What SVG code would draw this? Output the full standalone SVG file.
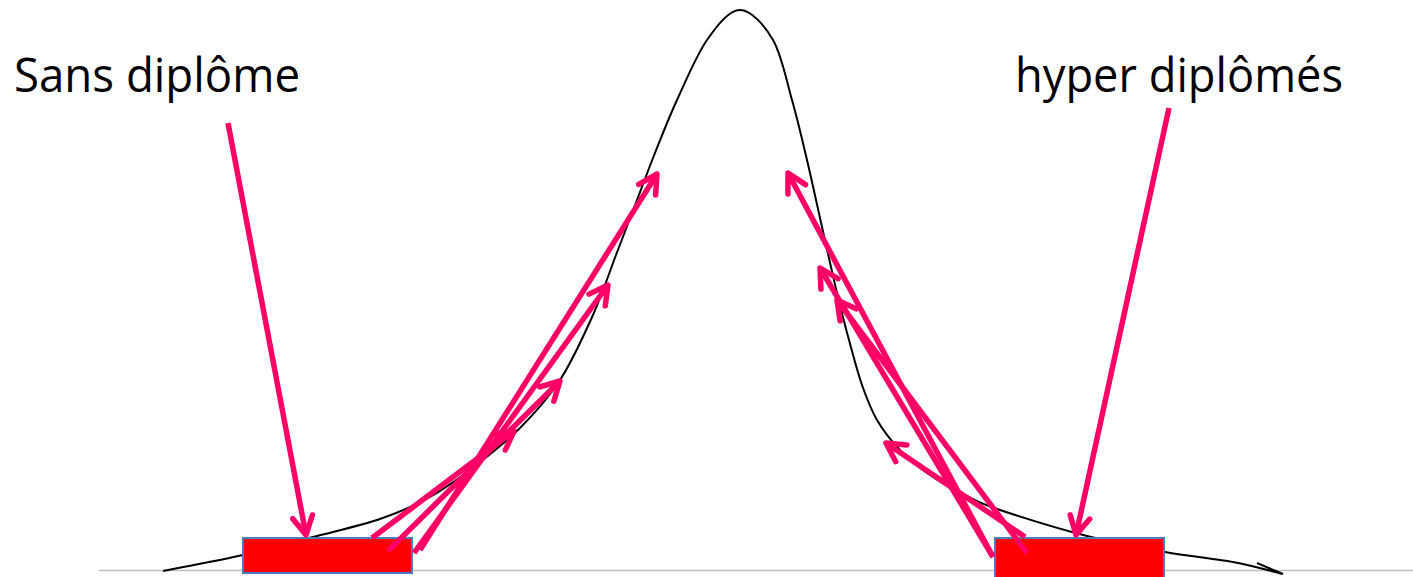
<svg xmlns="http://www.w3.org/2000/svg" width="1413" height="577" viewBox="0 0 1413 577">
<style>
.lbl{font-family:"Open Sans","Liberation Sans",sans-serif;font-size:48px;fill:#000}
.bar{fill:#ff0000;stroke:#4a7ebb;stroke-width:2}
.arr{fill:none;stroke:#ff0066;stroke-width:5.5;stroke-linecap:butt;marker-end:url(#ah)}
</style>
<defs>
<marker id="ah" markerUnits="userSpaceOnUse" orient="auto" refX="0" refY="0" markerWidth="40" markerHeight="40" viewBox="-30 -20 40 40" overflow="visible">
<path d="M-18.5,-10 L0,0 L-18.5,10" fill="none" stroke="#ff0066" stroke-width="5.5" stroke-linecap="round" stroke-linejoin="round"/>
</marker>
</defs>
<rect width="1413" height="577" fill="#fff"/>
<line id="baseline" x1="99" y1="570.5" x2="1413" y2="570.5" stroke="#c0c0c0" stroke-width="1.5"/>
<g id="curve" fill="none" stroke="#000" stroke-width="2">
<path d="M163,571 C176.3,568.3 218,560.7 243,555 S290.2,543 313,537 S360.5,525.7 380,519 S414.2,505.8 430,497 S460,477.5 475,466 S505.8,442.3 520,428 S547.8,398.8 560,380 S583.7,335.8 593,315 S608.7,274.2 616,255 S630.5,217 637,200 S648.3,169.7 655,153 S668.3,118.8 677,100 S696.5,55 707,40 S729,10 740,10 S764.3,25 773,40 S786.3,80 792,100 S802,138.8 807,160 S817,204.8 822,227 S832.5,274.2 837,293 S844.8,324.7 849,340 S857.3,371.7 862,385 S870.7,409.2 877,420 S891.2,440.8 900,450 S919.2,467.5 930,475 S953.3,489.2 965,495 S979.7,503.2 1000,510 S1059.5,529 1087,536 S1140.7,547.7 1165,552 S1213.3,558.3 1233,562 S1274.7,572 1283,574 L1257,563"/>
</g>
<g id="node-sans-bar"><rect class="bar" x="243" y="538" width="169" height="35"/></g>
<g id="node-hyper-bar"><rect class="bar" x="995" y="538" width="169" height="42"/></g>
<g id="node-sans-label"><text class="lbl" x="14" y="92" textLength="286" lengthAdjust="spacingAndGlyphs">Sans diplôme</text></g>
<g id="node-hyper-label"><text class="lbl" x="1015" y="92" textLength="328" lengthAdjust="spacingAndGlyphs">hyper diplômés</text></g>
<g id="connectors">
<line class="arr" x1="228" y1="123" x2="306" y2="535"/>
<line class="arr" x1="1169" y1="108" x2="1076" y2="535"/>
<line class="arr" x1="372" y1="538" x2="514" y2="431"/>
<line class="arr" x1="388" y1="551" x2="560" y2="381"/>
<line class="arr" x1="414" y1="553" x2="608" y2="285"/>
<line class="arr" x1="420" y1="550" x2="657" y2="174"/>
<line class="arr" x1="993" y1="557" x2="788" y2="173"/>
<line class="arr" x1="993" y1="557" x2="820" y2="268"/>
<line class="arr" x1="1027" y1="553" x2="837" y2="300"/>
<line class="arr" x1="1025" y1="537" x2="886" y2="443"/>
</g>
</svg>
